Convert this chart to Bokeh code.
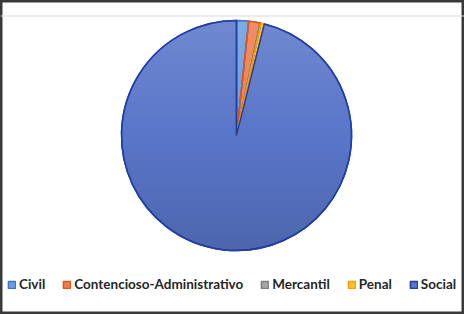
import numpy as np
from bokeh.plotting import figure
from bokeh.models import Range1d, Legend, LegendItem, Span, ColumnDataSource
from bokeh.embed import file_html
from bokeh.resources import INLINE

# Share of cases per jurisdiction (percent)
categories = ["Civil", "Contencioso-Administrativo", "Mercantil", "Penal", "Social"]
shares = [1.7, 1.6, 0.1, 0.5, 96.1]
fill_colors = ["#6b9ee0", "#f07d4f", "#a5a5a5", "#ffbe35", "#5a76c9"]
line_colors = ["#3a78c8", "#e0561f", "#7f7f7f", "#f2a300", "#1f3ea6"]

W, H = 464, 314
cx, cy, R = 236.0, 179.0, 115.0

frac = np.array(shares, dtype=float) / sum(shares)
cum = np.concatenate([[0.0], np.cumsum(frac)])
start = np.pi / 2 - cum[:-1] * 2 * np.pi
end = np.pi / 2 - cum[1:] * 2 * np.pi

src = ColumnDataSource(dict(
    cat=categories, start=start, end=end,
    fill=fill_colors, line=line_colors,
))

p = figure(width=W, height=H, output_backend="svg", toolbar_location=None,
           x_range=Range1d(0, W), y_range=Range1d(0, H), min_border=0)
p.axis.visible = False
p.grid.visible = False
p.background_fill_color = "white"
p.border_fill_color = "white"
p.outline_line_color = "#3a3a3a"
p.outline_line_width = 4

# slices
pie = p.wedge(x=cx, y=cy, radius=R, start_angle="start", end_angle="end",
              direction="clock", fill_color="fill", line_color="line",
              line_width=1.5, source=src)

# vertical shading over the disc: lighter at the top, darker at the bottom
yy, xx = np.mgrid[0:H, 0:W] + 0.5
inside = (xx - cx) ** 2 + (yy - cy) ** 2 <= (R + 0.5) ** 2
t = np.clip((cy + R - yy) / (2 * R), 0, 1)
img = np.zeros((H, W, 4), dtype=np.uint8)
light = t < 0.5
img[..., 0:3] = np.where(light[..., None], 255, 0)
alpha = np.where(light, (0.5 - t) * 2 * 0.14, (t - 0.5) * 2 * 0.14)
img[..., 3] = (alpha * 255 * inside).astype(np.uint8)
rgba = img.view(dtype=np.uint32).reshape(H, W)
p.image_rgba(image=[rgba], x=0, y=0, dw=W, dh=H)

# slice outlines on top of the shading
p.wedge(x=cx, y=cy, radius=R, start_angle="start", end_angle="end",
        direction="clock", fill_color=None, line_color="line",
        line_width=1.5, source=src)

p.add_layout(Span(location=H - 15.5, dimension="width",
                  line_color="#d9d9d9", line_width=1))

items = [LegendItem(label=c, renderers=[pie], index=i) for i, c in enumerate(categories)]
legend = Legend(items=items, orientation="horizontal", location=(7, 22),
                glyph_width=9, glyph_height=9, label_standoff=3, spacing=17,
                padding=0, margin=0, background_fill_alpha=0,
                border_line_alpha=0, label_text_font="Lato",
                label_text_font_style="bold", label_text_font_size="13.5px",
                label_text_color="#262626")
p.add_layout(legend, "center")

open("out.html", "w").write(file_html(p, INLINE))
